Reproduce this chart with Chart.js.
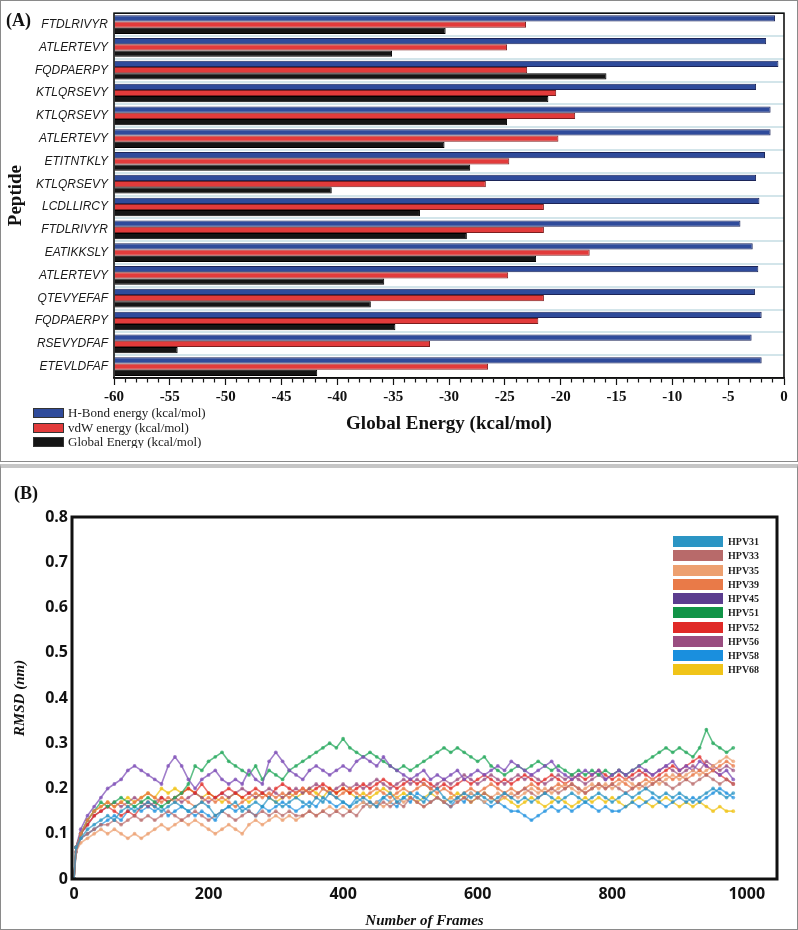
<!DOCTYPE html>
<html><head><meta charset="utf-8">
<script src="https://cdn.jsdelivr.net/npm/chart.js@4.4.1/dist/chart.umd.min.js"></script>
<style>
body{margin:0;background:#fff;width:798px;height:930px;position:relative;overflow:hidden;font-family:"Liberation Serif",serif}
.panel{position:absolute;left:0;width:798px;box-sizing:border-box;border:1px solid #8a8a8a;pointer-events:none}
#pA{top:0;height:462px}
#pB{top:464px;height:466px;border-top:4px solid #c6c6c6}
canvas{position:absolute;left:0}
#cA{top:0}
#cB{top:468px}
.plabel{position:absolute;font:bold 18px "Liberation Serif";line-height:20px;color:#111}
#legA{position:absolute;left:33px;top:406px;height:42px;overflow:hidden}
.la{height:14.5px;display:flex;align-items:center;font:13px "Liberation Serif";color:#222;white-space:nowrap}
.la span{display:inline-block;width:31px;height:10px;box-sizing:border-box;margin-right:4px;border:1px solid #333}
#legB{position:absolute;left:673px;top:534.6px}
.lb{height:14.26px;display:flex;align-items:center;font:bold 10px "Liberation Serif";color:#222;white-space:nowrap}
.lb span{display:inline-block;width:50px;height:11px;margin-right:5px}
</style>
</head>
<body>
<canvas id="cA" width="798" height="462"></canvas>
<canvas id="cB" width="798" height="462"></canvas>
<div class="panel" id="pA"></div>
<div class="panel" id="pB"></div>
<div class="plabel" style="left:6px;top:10px">(A)</div>
<div class="plabel" style="left:14px;top:483px">(B)</div>
<div id="legA"></div>
<div id="legB"></div>
<script>
// ---------- Panel A data ----------
const peptides = ['FTDLRIVYR','ATLERTEVY','FQDPAERPY','KTLQRSEVY','KTLQRSEVY','ATLERTEVY','ETITNTKLY','KTLQRSEVY','LCDLLIRCY','FTDLRIVYR','EATIKKSLY','ATLERTEVY','QTEVYEFAF','FQDPAERPY','RSEVYDFAF','ETEVLDFAF'];
const hbondEnergy  = [-0.8,-1.6,-0.5,-2.5,-1.2,-1.2,-1.7,-2.5,-2.2,-3.9,-2.8,-2.3,-2.6,-2.0,-2.9,-2.0];
const vdwEnergy    = [-23.1,-24.8,-23.0,-20.4,-18.7,-20.2,-24.6,-26.7,-21.5,-21.5,-17.4,-24.7,-21.5,-22.0,-31.7,-26.5];
const globalEnergy = [-30.3,-35.1,-15.9,-21.1,-24.8,-30.4,-28.1,-40.5,-32.6,-28.4,-22.2,-35.8,-37.0,-34.8,-54.3,-41.8];
const energySeriesNames = ['H-Bond energy (kcal/mol)','vdW energy (kcal/mol)','Global Energy (kcal/mol)'];
const energyColors = ['#2f4b9b','#e23b3b','#151515'];
const energyBorders = ['#1c2558','#7d1f1f','#000000'];
const energyTickLabels = [-60,-55,-50,-45,-40,-35,-30,-25,-20,-15,-10,-5,0];

// ---------- Panel B data ----------
const frames = [0,3,10,20,30,40,50,60,70,80,
  90,100,110,120,130,140,150,160,170,180,
  190,200,210,220,230,240,250,260,270,280,
  290,300,310,320,330,340,350,360,370,380,
  390,400,410,420,430,440,450,460,470,480,
  490,500,510,520,530,540,550,560,570,580,
  590,600,610,620,630,640,650,660,670,680,
  690,700,710,720,730,740,750,760,770,780,
  790,800,810,820,830,840,850,860,870,880,
  890,900,910,920,930,940,950,960,970,980];
const hpv31 = [0.00,0.07,0.09,0.11,0.12,0.13,0.14,0.13,0.15,0.16,
  0.15,0.16,0.17,0.16,0.15,0.16,0.17,0.16,0.15,0.16,
  0.17,0.16,0.14,0.15,0.16,0.17,0.15,0.16,0.17,0.16,
  0.18,0.17,0.16,0.17,0.18,0.17,0.16,0.18,0.17,0.19,
  0.18,0.17,0.16,0.17,0.18,0.17,0.16,0.18,0.19,0.17,
  0.18,0.19,0.18,0.17,0.19,0.20,0.18,0.17,0.18,0.19,
  0.18,0.19,0.18,0.17,0.18,0.19,0.18,0.17,0.18,0.17,
  0.18,0.19,0.18,0.17,0.18,0.19,0.18,0.17,0.18,0.19,
  0.18,0.17,0.18,0.19,0.18,0.19,0.20,0.19,0.18,0.19,
  0.18,0.19,0.18,0.17,0.18,0.19,0.20,0.19,0.18,0.19];
const hpv33 = [0.00,0.06,0.09,0.10,0.11,0.12,0.12,0.13,0.12,0.13,
  0.14,0.13,0.14,0.13,0.14,0.15,0.14,0.13,0.14,0.15,
  0.14,0.13,0.14,0.15,0.14,0.13,0.14,0.15,0.14,0.15,
  0.14,0.15,0.14,0.15,0.14,0.14,0.15,0.14,0.15,0.14,
  0.15,0.14,0.15,0.14,0.16,0.17,0.16,0.17,0.16,0.17,
  0.16,0.18,0.17,0.16,0.17,0.18,0.17,0.16,0.17,0.18,
  0.17,0.18,0.19,0.18,0.17,0.19,0.18,0.19,0.20,0.19,
  0.18,0.19,0.20,0.19,0.20,0.21,0.20,0.19,0.20,0.21,
  0.20,0.21,0.20,0.19,0.20,0.21,0.20,0.21,0.22,0.21,
  0.20,0.21,0.22,0.21,0.22,0.23,0.22,0.21,0.22,0.21];
const hpv35 = [0.00,0.06,0.08,0.09,0.10,0.11,0.10,0.11,0.10,0.09,
  0.10,0.09,0.10,0.11,0.12,0.11,0.12,0.13,0.12,0.13,
  0.12,0.11,0.10,0.11,0.12,0.11,0.10,0.12,0.13,0.12,
  0.13,0.14,0.13,0.14,0.13,0.14,0.15,0.14,0.15,0.16,
  0.15,0.16,0.15,0.16,0.17,0.16,0.17,0.16,0.17,0.18,
  0.17,0.18,0.17,0.16,0.17,0.18,0.17,0.18,0.17,0.18,
  0.19,0.18,0.17,0.18,0.19,0.18,0.19,0.18,0.19,0.20,
  0.19,0.20,0.19,0.20,0.21,0.20,0.19,0.20,0.21,0.20,
  0.21,0.20,0.21,0.22,0.21,0.20,0.21,0.22,0.21,0.22,
  0.23,0.22,0.23,0.24,0.23,0.24,0.25,0.26,0.27,0.26];
const hpv39 = [0.00,0.07,0.10,0.13,0.15,0.16,0.17,0.16,0.17,0.16,
  0.17,0.18,0.19,0.18,0.17,0.18,0.17,0.18,0.17,0.16,
  0.17,0.18,0.17,0.18,0.17,0.16,0.17,0.18,0.19,0.18,
  0.19,0.18,0.19,0.18,0.19,0.20,0.19,0.18,0.20,0.19,
  0.18,0.19,0.20,0.19,0.18,0.19,0.20,0.19,0.18,0.19,
  0.20,0.19,0.20,0.21,0.20,0.19,0.20,0.19,0.18,0.19,
  0.20,0.19,0.20,0.21,0.20,0.19,0.20,0.19,0.20,0.21,
  0.20,0.19,0.20,0.21,0.20,0.21,0.20,0.19,0.20,0.21,
  0.20,0.21,0.22,0.21,0.20,0.21,0.22,0.21,0.22,0.23,
  0.22,0.23,0.22,0.23,0.24,0.23,0.24,0.25,0.26,0.25];
const hpv45 = [0.00,0.07,0.11,0.14,0.16,0.18,0.20,0.21,0.22,0.24,
  0.25,0.24,0.23,0.22,0.21,0.25,0.27,0.25,0.22,0.20,
  0.22,0.23,0.24,0.22,0.21,0.22,0.21,0.24,0.22,0.21,
  0.26,0.28,0.26,0.24,0.23,0.22,0.24,0.25,0.24,0.23,
  0.24,0.25,0.24,0.26,0.27,0.26,0.25,0.27,0.25,0.24,
  0.23,0.22,0.23,0.24,0.22,0.23,0.22,0.23,0.24,0.22,
  0.23,0.24,0.23,0.24,0.25,0.24,0.26,0.25,0.24,0.23,
  0.24,0.25,0.26,0.24,0.23,0.22,0.23,0.24,0.23,0.24,
  0.22,0.23,0.24,0.23,0.24,0.25,0.24,0.23,0.24,0.25,
  0.26,0.24,0.25,0.24,0.26,0.25,0.24,0.23,0.24,0.22];
const hpv51 = [0.00,0.07,0.10,0.13,0.15,0.17,0.16,0.17,0.18,0.17,
  0.16,0.17,0.18,0.17,0.16,0.17,0.18,0.19,0.21,0.25,
  0.24,0.26,0.27,0.28,0.26,0.25,0.24,0.23,0.25,0.22,
  0.24,0.23,0.22,0.24,0.25,0.26,0.27,0.28,0.29,0.30,
  0.29,0.31,0.29,0.28,0.27,0.28,0.27,0.26,0.25,0.24,
  0.25,0.24,0.25,0.26,0.27,0.28,0.29,0.28,0.29,0.28,
  0.27,0.26,0.27,0.25,0.24,0.23,0.24,0.25,0.24,0.25,
  0.26,0.25,0.24,0.25,0.24,0.23,0.24,0.23,0.24,0.23,
  0.24,0.23,0.24,0.23,0.24,0.25,0.26,0.27,0.28,0.29,
  0.28,0.29,0.28,0.27,0.29,0.33,0.30,0.29,0.28,0.29];
const hpv52 = [0.00,0.07,0.10,0.12,0.14,0.15,0.16,0.15,0.14,0.15,
  0.14,0.16,0.17,0.16,0.18,0.17,0.18,0.19,0.20,0.19,
  0.21,0.19,0.18,0.19,0.20,0.19,0.18,0.19,0.20,0.19,
  0.18,0.20,0.21,0.20,0.19,0.20,0.19,0.20,0.21,0.20,
  0.19,0.20,0.19,0.20,0.21,0.20,0.21,0.22,0.21,0.20,
  0.21,0.22,0.21,0.22,0.21,0.20,0.21,0.20,0.21,0.22,
  0.21,0.22,0.23,0.22,0.21,0.22,0.21,0.22,0.23,0.22,
  0.21,0.22,0.23,0.22,0.21,0.22,0.23,0.22,0.23,0.24,
  0.23,0.22,0.23,0.22,0.23,0.24,0.23,0.22,0.23,0.24,
  0.25,0.24,0.25,0.26,0.27,0.25,0.24,0.23,0.22,0.21];
const hpv56 = [0.00,0.07,0.10,0.12,0.14,0.15,0.16,0.17,0.16,0.17,
  0.18,0.17,0.16,0.17,0.18,0.17,0.18,0.17,0.18,0.19,
  0.18,0.17,0.18,0.19,0.18,0.19,0.20,0.19,0.18,0.19,
  0.20,0.19,0.18,0.19,0.20,0.19,0.20,0.21,0.20,0.19,
  0.20,0.21,0.20,0.21,0.20,0.21,0.22,0.21,0.20,0.21,
  0.22,0.21,0.22,0.21,0.20,0.21,0.22,0.21,0.22,0.23,
  0.22,0.21,0.22,0.23,0.22,0.21,0.22,0.23,0.22,0.23,
  0.22,0.21,0.22,0.23,0.22,0.23,0.22,0.21,0.22,0.23,
  0.22,0.23,0.24,0.23,0.22,0.23,0.24,0.23,0.24,0.25,
  0.24,0.23,0.24,0.25,0.24,0.26,0.25,0.24,0.25,0.24];
const hpv58 = [0.00,0.06,0.09,0.10,0.11,0.12,0.13,0.14,0.13,0.15,
  0.16,0.15,0.16,0.15,0.16,0.14,0.15,0.16,0.15,0.14,
  0.15,0.14,0.13,0.15,0.16,0.15,0.16,0.15,0.14,0.16,
  0.15,0.16,0.17,0.16,0.15,0.16,0.17,0.16,0.18,0.17,
  0.16,0.17,0.16,0.18,0.17,0.16,0.17,0.18,0.17,0.16,
  0.18,0.17,0.19,0.18,0.17,0.18,0.17,0.16,0.18,0.17,
  0.19,0.18,0.17,0.16,0.17,0.16,0.15,0.15,0.14,0.13,
  0.14,0.15,0.16,0.15,0.16,0.15,0.16,0.17,0.16,0.15,
  0.16,0.15,0.15,0.16,0.17,0.16,0.17,0.18,0.17,0.16,
  0.17,0.18,0.17,0.18,0.17,0.18,0.19,0.20,0.19,0.18];
const hpv68 = [0.00,0.07,0.10,0.13,0.15,0.16,0.17,0.16,0.17,0.18,
  0.17,0.18,0.19,0.18,0.20,0.19,0.20,0.19,0.20,0.19,
  0.18,0.19,0.18,0.17,0.18,0.19,0.18,0.17,0.18,0.19,
  0.18,0.17,0.18,0.19,0.18,0.19,0.20,0.19,0.18,0.20,
  0.19,0.20,0.19,0.18,0.19,0.18,0.19,0.20,0.19,0.18,
  0.19,0.18,0.17,0.18,0.19,0.18,0.17,0.18,0.19,0.18,
  0.17,0.18,0.19,0.18,0.17,0.18,0.17,0.16,0.17,0.18,
  0.17,0.16,0.17,0.18,0.17,0.16,0.17,0.18,0.17,0.18,
  0.17,0.18,0.17,0.16,0.17,0.18,0.17,0.16,0.17,0.18,
  0.17,0.16,0.17,0.16,0.17,0.16,0.15,0.16,0.15,0.15];
const hpvNames  = ['HPV31','HPV33','HPV35','HPV39','HPV45','HPV51','HPV52','HPV56','HPV58','HPV68'];
const hpvColors = ['#2b95c4','#b86a6a','#eda070','#e97a48','#5b3d8f','#119447','#e02a27','#9a4d80','#1a8fde','#f0c419'];
const hpvTraceColors = ['rgba(43,149,196,0.7)','rgba(184,106,106,0.65)','rgba(237,160,112,0.7)','rgba(233,122,72,0.7)','rgba(128,82,184,0.75)','rgba(40,170,95,0.75)','rgba(224,42,39,0.65)','rgba(154,77,128,0.65)','rgba(26,143,222,0.65)','rgba(240,196,25,0.75)'];
const rmsdSeries = [hpv31,hpv33,hpv35,hpv39,hpv45,hpv51,hpv52,hpv56,hpv58,hpv68];
const frameTicks = [0,200,400,600,800,1000];
const rmsdTicks = [0,0.1,0.2,0.3,0.4,0.5,0.6,0.7,0.8];

// ---------- plugins ----------
const framePlugin = {
  id: 'frame',
  afterDraw(chart, args, opts) {
    const {ctx, chartArea: {left, top, right, bottom}} = chart;
    ctx.save();
    ctx.strokeStyle = opts.color || '#000';
    ctx.lineWidth = opts.width || 1;
    ctx.strokeRect(left, top, right - left, bottom - top);
    ctx.restore();
  }
};

// ---------- Chart A ----------
const energyData = [hbondEnergy, vdwEnergy, globalEnergy];
new Chart(document.getElementById('cA'), {
  type: 'bar',
  data: {
    labels: peptides,
    datasets: energyData.map((d, i) => ({
      label: energySeriesNames[i], data: d,
      backgroundColor: energyColors[i], borderColor: energyBorders[i],
      borderWidth: 1, base: -60
    }))
  },
  options: {
    indexAxis: 'y', responsive: false, animation: false,
    datasets: {bar: {barPercentage: 1, categoryPercentage: 0.82}},
    layout: {padding: {left: 0, top: 13, right: 14, bottom: 22.6}},
    plugins: {legend: {display: false}, tooltip: {enabled: false}, frame: {width: 1.6, color: '#111'}},
    scales: {
      x: {
        min: -60, max: 0,
        ticks: {
          stepSize: 1, autoSkip: false, maxRotation: 0, minRotation: 0, padding: 3, color: '#111',
          font: {family: 'Liberation Serif', size: 15, weight: 'bold'},
          callback: v => energyTickLabels.includes(v) ? String(v) : ''
        },
        grid: {
          drawOnChartArea: false, drawTicks: true, tickLength: 7, tickColor: '#111', tickWidth: 1.2,
          tickBorderDash: c => (c.tick && energyTickLabels.includes(c.tick.value)) ? [] : [4, 20]
        },
        border: {color: '#111', width: 1.5},
        title: {display: true, text: 'Global Energy (kcal/mol)', color: '#111',
          font: {family: 'Liberation Serif', size: 19, weight: 'bold'}, padding: {top: 4, bottom: 4}},
        afterFit: s => { s.height = 61.4; }
      },
      y: {
        ticks: {padding: 6, color: '#1a1a1a', font: {family: 'Liberation Sans', size: 12, style: 'italic'}},
        grid: {color: '#d3e5ea', lineWidth: 2, drawTicks: false, offset: true},
        border: {display: false},
        title: {display: true, text: 'Peptide', color: '#111',
          font: {family: 'Liberation Serif', size: 19, weight: 'bold'}, padding: {top: 5, bottom: 0}},
        afterFit: s => { s.width = 114; }
      }
    }
  },
  plugins: [framePlugin]
});

// ---------- Chart B ----------
new Chart(document.getElementById('cB'), {
  type: 'line',
  data: {
    datasets: rmsdSeries.map((vals, i) => ({
      label: hpvNames[i],
      data: frames.map((f, j) => ({x: f, y: vals[j]})),
      borderColor: hpvTraceColors[i], backgroundColor: hpvColors[i],
      pointBackgroundColor: hpvTraceColors[i],
      borderWidth: 1.6, pointRadius: 1.9, pointBorderWidth: 0, tension: 0, fill: false
    }))
  },
  options: {
    responsive: false, animation: false,
    layout: {padding: {left: 0, top: 49, right: 21, bottom: 0}},
    plugins: {legend: {display: false}, tooltip: {enabled: false}, frame: {width: 3, color: '#111'}},
    scales: {
      x: {
        type: 'linear', min: -3, max: 1045,
        afterBuildTicks: s => { s.ticks = frameTicks.map(v => ({value: v})); },
        ticks: {padding: 5.4, color: '#111', maxRotation: 0, font: {family: 'Open Sans', size: 16, weight: 'bold'},
          callback: v => String(v)},
        grid: {drawOnChartArea: false, drawTicks: false},
        border: {display: false},
        title: {display: true, text: 'Number of Frames', color: '#111',
          font: {family: 'Liberation Serif', size: 15, weight: 'bold', style: 'italic'}, padding: {top: 0, bottom: 0}},
        afterFit: s => { s.height = 51; }
      },
      y: {
        min: 0, max: 0.8,
        afterBuildTicks: s => { s.ticks = rmsdTicks.map(v => ({value: v})); },
        ticks: {padding: 4, color: '#111', font: {family: 'Open Sans', size: 16, weight: 'bold'},
          callback: v => v === 0 ? '0' : v.toFixed(1)},
        grid: {drawOnChartArea: false, drawTicks: false},
        border: {display: false},
        title: {display: true, text: 'RMSD (nm)', color: '#111',
          font: {family: 'Liberation Serif', size: 15, weight: 'bold', style: 'italic'}, padding: {top: 11, bottom: 0}},
        afterFit: s => { s.width = 72; }
      }
    }
  },
  plugins: [framePlugin]
});

// ---------- Legends ----------
const legA = document.getElementById('legA');
energySeriesNames.forEach((n, i) => {
  const d = document.createElement('div'); d.className = 'la';
  const b = document.createElement('span'); b.style.background = energyColors[i];
  d.appendChild(b); d.appendChild(document.createTextNode(n)); legA.appendChild(d);
});
const legB = document.getElementById('legB');
hpvNames.forEach((n, i) => {
  const d = document.createElement('div'); d.className = 'lb';
  const b = document.createElement('span'); b.style.background = hpvColors[i];
  d.appendChild(b); d.appendChild(document.createTextNode(n)); legB.appendChild(d);
});
</script>
</body></html>
